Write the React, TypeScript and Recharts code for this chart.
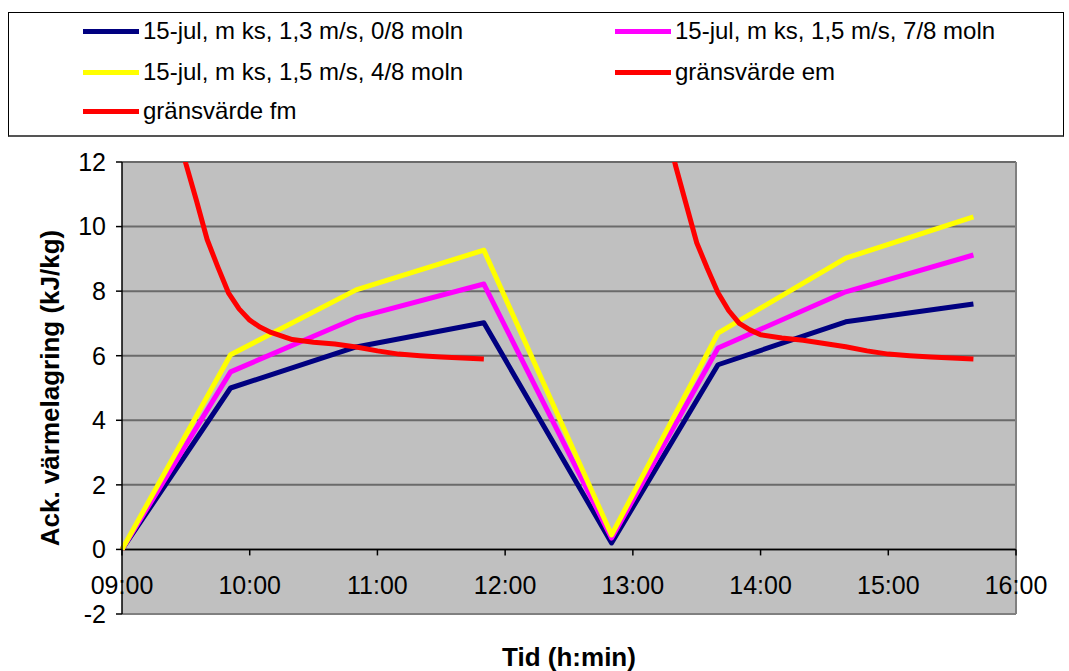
import { LineChart, Line, XAxis, YAxis, CartesianGrid, ReferenceLine, Label } from "recharts";

// observation times (minutes after 09:00)
const obsMinutes = [0, 51, 110, 170, 230, 280, 340, 400];
const series0Moln = [0, 5.0, 6.27, 7.02, 0.2, 5.72, 7.05, 7.6];
const series7Moln = [0, 5.5, 7.17, 8.22, 0.35, 6.24, 7.98, 9.12];
const series4Moln = [0, 6.03, 8.04, 9.27, 0.45, 6.7, 9.02, 10.3];

// limit curves
const fmMinutes = [25, 30, 35, 40, 45, 50, 55, 60, 65, 70, 80, 90, 100, 110, 120, 130, 140, 150, 160, 170];
const fmValues = [13.4, 11.95, 10.8, 9.6, 8.75, 7.95, 7.45, 7.1, 6.88, 6.72, 6.5, 6.42, 6.36, 6.27, 6.15, 6.05, 6.0, 5.96, 5.93, 5.9];
const emMinutes = [255, 260, 265, 270, 275, 280, 285, 290, 295, 300, 310, 320, 330, 340, 350, 360, 370, 380, 390, 400];
const emValues = [13.3, 11.9, 10.7, 9.5, 8.7, 7.95, 7.4, 7.0, 6.8, 6.65, 6.55, 6.48, 6.38, 6.28, 6.15, 6.05, 6.0, 5.96, 5.93, 5.9];

const xTicks = [0, 60, 120, 180, 240, 300, 360, 420];
const xTickLabels = ["09:00", "10:00", "11:00", "12:00", "13:00", "14:00", "15:00", "16:00"];
const yTicks = [-2, 0, 2, 4, 6, 8, 10, 12];

const seriesNames = [
  "15-jul, m ks, 1,3 m/s, 0/8 moln",
  "15-jul, m ks, 1,5 m/s, 7/8 moln",
  "15-jul, m ks, 1,5 m/s, 4/8 moln",
  "gränsvärde em",
  "gränsvärde fm",
];
const colors = ["#000080", "#ff00ff", "#ffff00", "#ff0000", "#ff0000"];

const toPoints = (xs: number[], ys: number[]) => xs.map((t, i) => ({ t, v: ys[i] }));

const FONT = "'Liberation Sans', Arial, sans-serif";
const W = 1069;
const H = 671;
const PLOT_TOP = 162;
const PLOT_BOTTOM = 614;
// pixel row of y = 0, where the x axis is drawn
const Y0 = PLOT_TOP + ((12 - 0) / 14) * (PLOT_BOTTOM - PLOT_TOP);

const XTick = (props: any) => {
  const { x, payload } = props;
  const idx = xTicks.indexOf(payload.value);
  return (
    <g>
      <line x1={x} x2={x} y1={Y0} y2={Y0 + 6} stroke="#000" strokeWidth={1.5} />
      <text x={x} y={Y0 + 45} textAnchor="middle" fontSize={25} fill="#000" fontFamily={FONT}>
        {xTickLabels[idx]}
      </text>
    </g>
  );
};

const legendPos = [
  { left: 83, top: 31 },
  { left: 615, top: 31 },
  { left: 83, top: 72 },
  { left: 615, top: 72 },
  { left: 83, top: 111 },
];

export default function App() {
  const lines = [
    toPoints(obsMinutes, series0Moln),
    toPoints(obsMinutes, series7Moln),
    toPoints(obsMinutes, series4Moln),
    toPoints(emMinutes, emValues),
    toPoints(fmMinutes, fmValues),
  ];

  return (
    <div style={{ position: "absolute", left: 0, top: 0, width: W, height: H, background: "#fff", fontFamily: FONT }}>
      <div
        style={{
          position: "absolute",
          left: 8,
          top: 12,
          width: 1056,
          height: 125,
          border: "1px solid #000",
          borderBottom: "2px solid #555",
          boxSizing: "border-box",
        }}
      />
      {seriesNames.map((name, i) => (
        <div
          key={name}
          style={{
            position: "absolute",
            left: legendPos[i].left,
            top: legendPos[i].top - 15,
            height: 30,
            display: "flex",
            alignItems: "center",
            fontSize: 24,
            color: "#000",
            whiteSpace: "nowrap",
          }}
        >
          <span style={{ display: "inline-block", width: 56, height: 5, background: colors[i], marginRight: 4 }} />
          {name}
        </div>
      ))}
      <LineChart width={W} height={H} margin={{ top: PLOT_TOP, right: 53, bottom: 0, left: 0 }}>
        <CartesianGrid vertical={false} fill="#c0c0c0" stroke="#6a6a6a" strokeWidth={2} />
        <XAxis
          type="number"
          dataKey="t"
          domain={[0, 420]}
          ticks={xTicks}
          height={H - PLOT_BOTTOM}
          axisLine={false}
          tickLine={false}
          tick={<XTick />}
          interval={0}
        >
          <Label
            value="Tid (h:min)"
            position="insideBottom"
            offset={5}
            style={{ fontSize: 26, fontWeight: "bold", fill: "#000", fontFamily: FONT }}
          />
        </XAxis>
        <YAxis
          type="number"
          domain={[-2, 12]}
          ticks={yTicks}
          allowDataOverflow
          width={122}
          axisLine={{ stroke: "#000", strokeWidth: 1.5 }}
          tickLine={{ stroke: "#000", strokeWidth: 1.5 }}
          tickSize={6}
          tickMargin={10}
          tick={{ fontSize: 25, fill: "#000", fontFamily: FONT }}
        >
          <Label
            value="Ack. värmelagring (kJ/kg)"
            angle={-90}
            position="insideLeft"
            offset={50}
            style={{ fontSize: 26, fontWeight: "bold", fill: "#000", fontFamily: FONT, textAnchor: "middle" }}
          />
        </YAxis>
        <ReferenceLine x={420} stroke="#808080" strokeWidth={2} />
        <ReferenceLine y={-2} stroke="#808080" strokeWidth={2} />
        <ReferenceLine y={0} stroke="#000" strokeWidth={1.5} />
        {lines.map((pts, i) => (
          <Line
            key={seriesNames[i]}
            data={pts}
            dataKey="v"
            type="linear"
            stroke={colors[i]}
            strokeWidth={5}
            dot={false}
            strokeLinejoin="round"
            isAnimationActive={false}
          />
        ))}
      </LineChart>
    </div>
  );
}
